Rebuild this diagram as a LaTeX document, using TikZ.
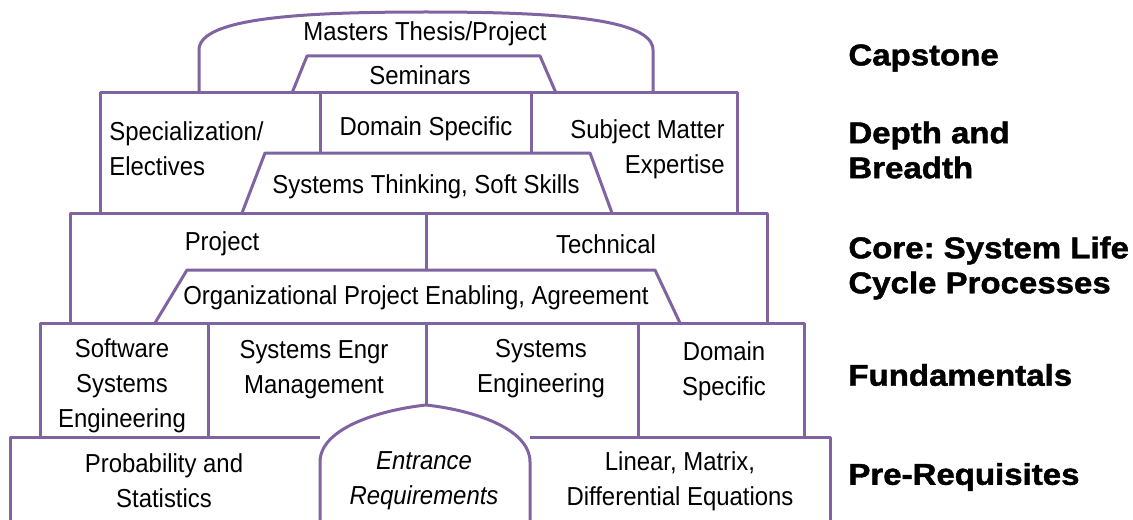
\documentclass[tikz,border=0pt]{standalone}
\usepackage{fontspec}
\setmainfont{Liberation Sans}
\newfontfamily\boxfont[FakeStretch=0.92]{Liberation Sans}
\newfontfamily\tierfont[FakeStretch=1.1,FakeBold=1.5]{Liberation Sans}
\usepackage{tikz}
\usepackage{xcolor}
\usetikzlibrary{positioning, calc}
\definecolor{wallpurple}{RGB}{128,100,162}
\frenchspacing

\begin{document}
\begin{tikzpicture}[x=0.5pt,y=-0.5pt]
		% Define styles for walls, bricks and tier labels
		\tikzstyle{wall} = [draw=wallpurple, line width=1.5pt, line join=round]
		\tikzstyle{brick} = [inner sep=0pt, align=center, font={\boxfont\fontsize{13}{17.5}\selectfont}]
		\tikzstyle{tier} = [inner sep=0pt, anchor=west, align=left, font={\tierfont\bfseries\fontsize{15}{17.5}\selectfont}]
		
		\clip (0,0) rectangle (1133,519);
		
		% Capstone arch and seminars
		\draw[wall] (199,93) -- (199,50) .. controls (199,18) and (300,12) .. (426,12) .. controls (552,12) and (653,18) .. (653,50) -- (653,93);
		\draw[wall] (292,93) -- (307,56) -- (540,56) -- (556,93);
		\node[brick] (thesis) at (425,34) {Masters Thesis/Project};
		\node[brick] (sem) at (420,75) {Seminars};
		
		% Depth and breadth row
		\draw[wall] (100,213) -- (100,93) -- (737,93) -- (737,213);
		\draw[wall] (320,93) -- (320,153);
		\draw[wall] (531,93) -- (531,153);
		\draw[wall] (242,213) -- (265,153) -- (590,153) -- (612,213);
		\node[brick, align=left, anchor=west] (spec) at (109,149) {Specialization/\\Electives};
		\node[brick] (dom) at (426,129) {Domain Specific};
		\node[brick, align=right, anchor=east] (sme) at (725,149) {Subject Matter\\Expertise};
		\node[brick] (soft) at (426,187) {Systems Thinking, Soft Skills};
		
		% Core row
		\draw[wall] (70,323) -- (70,213) -- (767,213) -- (767,323);
		\draw[wall] (426,213) -- (426,270);
		\draw[wall] (155,323) -- (187,270) -- (655,270) -- (680,323);
		\node[brick] (proj) at (222,244) {Project};
		\node[brick] (tech) at (606,244) {Technical};
		\node[brick] (org) at (416,298) {Organizational Project Enabling, Agreement};
		
		% Fundamentals row
		\draw[wall] (40,437) -- (40,323) -- (804,323) -- (804,437);
		\draw[wall] (208,323) -- (208,437);
		\draw[wall] (638,323) -- (638,437);
		\node[brick] (swe) at (122,386) {Software\\Systems\\Engineering};
		\node[brick] (sem2) at (314,370) {Systems Engr\\Management};
		\node[brick] (se) at (541,369) {Systems\\Engineering};
		\node[brick] (dom2) at (724,371) {Domain\\Specific};
		
		% Pre-requisites row with the entrance arch
		\draw[wall] (10,530) -- (10,437) -- (320,437);
		\draw[wall] (530,437) -- (830,437) -- (830,530);
		\draw[wall] (320,530) -- (320,462) .. controls (320,428) and (380,410) .. (426,405) .. controls (472,410) and (530,428) .. (530,462) -- (530,530);
		\draw[wall] (426,323) -- (426,405);
		\node[brick] (prob) at (164,481) {Probability and\\Statistics};
		\node[brick, font={\boxfont\itshape\fontsize{13}{17.5}\selectfont}] (entr) at (424,481) {Entrance\\Requirements};
		\node[brick] (lin) at (680,481) {Linear, Matrix,\\Differential Equations};
		
		% Tier labels
		\node[tier] (cap) at (848,58) {Capstone};
		\node[tier] (depth) at (848,150) {Depth and\\Breadth};
		\node[tier] (core) at (848,268) {Core: System Life\\Cycle Processes};
		\node[tier] (fund) at (848,375) {Fundamentals};
		\node[tier] (pre) at (848,477) {Pre-Requisites};
	
	\end{tikzpicture}
\end{document}
